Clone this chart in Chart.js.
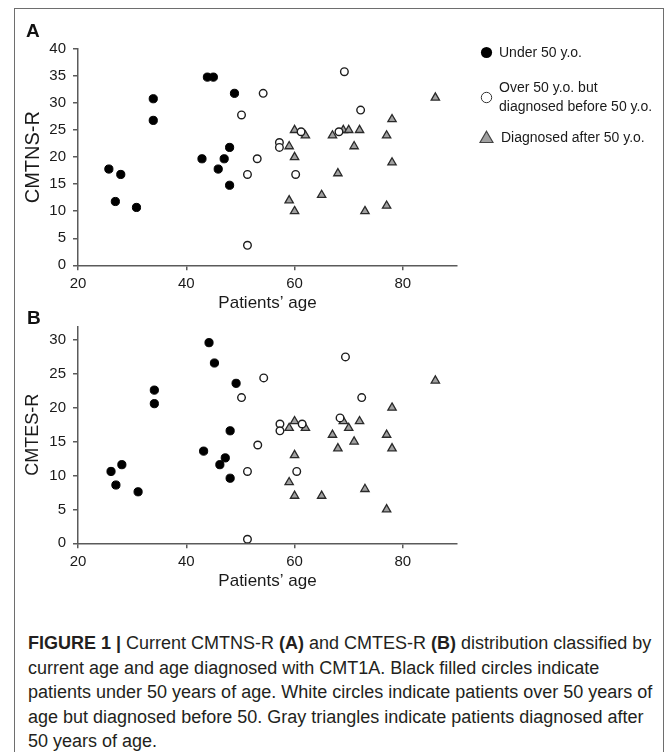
<!DOCTYPE html>
<html>
<head>
<meta charset="utf-8">
<script src="https://cdn.jsdelivr.net/npm/chart.js@4.4.1/dist/chart.umd.min.js"></script>
<style>
html,body{margin:0;padding:0;background:#fff;}
body{width:669px;height:752px;position:relative;overflow:hidden;font-family:"Liberation Sans",Arial,sans-serif;color:#1a1a1a;}
#frame{position:absolute;left:14px;top:8px;width:650px;height:800px;border:1.5px solid #6e6e6e;border-bottom:none;box-sizing:border-box;}
canvas{position:absolute;left:0;}
#cA{top:0px;}
#cB{top:310px;}
.plabel{position:absolute;font-weight:bold;font-size:19px;line-height:20px;color:#111;}
.lg{position:absolute;font-size:14px;line-height:19px;color:#1a1a1a;white-space:pre-line;}
.lm{position:absolute;}
#cap{position:absolute;left:28px;top:631px;font-size:18px;line-height:24.5px;white-space:nowrap;color:#231f20;}
</style>
</head>
<body>
<div id="frame"></div>
<canvas id="cA" width="669" height="320"></canvas>
<canvas id="cB" width="669" height="290"></canvas>
<div class="plabel" style="left:26px;top:21px;">A</div>
<div class="plabel" style="left:27px;top:308px;">B</div>
<div id="legend"></div>
<div id="cap"><b>FIGURE 1 |</b> Current CMTNS-R <b>(A)</b> and CMTES-R <b>(B)</b> distribution classified by<br>current age and age diagnosed with CMT1A. Black filled circles indicate<br>patients under 50 years of age. White circles indicate patients over 50 years of<br>age but diagnosed before 50. Gray triangles indicate patients diagnosed after<br>50 years of age.</div>
<script>
// ---- data ----
const seriesNames = ['Under 50 y.o.', 'Over 50 y.o.  but\ndiagnosed before 50 y.o.', 'Diagnosed after 50 y.o.'];
const xTickVals = [20, 40, 60, 80];
const yTickValsA = [0, 5, 10, 15, 20, 25, 30, 35, 40];
const yTickValsB = [0, 5, 10, 15, 20, 25, 30];

// Panel A: CMTNS-R  [age, score]
const underA = [[25.7,17.8],[27.9,16.8],[26.9,11.8],[30.8,10.7],[33.9,30.8],[33.9,26.8],[43.9,34.8],[45,34.8],[48.9,31.8],[42.9,19.7],[45.9,17.8],[47,19.7],[48,21.8],[48,14.8]];
const overA = [[50.2,27.8],[51.3,16.8],[51.3,3.7],[53.1,19.7],[54.2,31.8],[57.2,22.7],[57.2,21.8],[60.2,16.8],[61.2,24.7],[68.2,24.7],[69.2,35.8],[72.2,28.7]];
const afterA = [[60,25],[62,24],[59,22],[60,20],[59,12],[60,10],[65,13],[67,24],[68,17],[69,25],[70,25],[72,25],[71,22],[73,10],[77,24],[77,11],[78,27],[78,19],[86,31]];

// Panel B: CMTES-R  [age, score]
const underB = [[26.1,10.6],[27,8.6],[28.1,11.6],[31.1,7.6],[34.1,22.6],[34.1,20.6],[44.2,29.6],[45.2,26.6],[49.2,23.6],[43.2,13.6],[46.2,11.6],[47.2,12.6],[48.1,16.6],[48.1,9.6]];
const overB = [[50.2,21.5],[51.3,10.6],[51.3,0.6],[53.2,14.5],[54.3,24.4],[57.3,17.6],[57.3,16.6],[60.4,10.6],[61.4,17.6],[68.4,18.5],[69.4,27.5],[72.4,21.5]];
const afterB = [[60,18],[59,17],[62,17],[60,13],[59,9],[60,7],[65,7],[67,16],[68,14],[69,18],[70,17],[72,18],[71,15],[73,8],[77,16],[77,5],[78,20],[78,14],[86,24]];

// ---- style ----
const FAM = '"Liberation Sans", Arial, sans-serif';
const axisColor = '#5a5a5a';
const textColor = '#1a1a1a';
const styles = [
  {pointStyle:'circle', pointRadius:4.1, backgroundColor:'#000', borderColor:'#000', borderWidth:1},
  {pointStyle:'circle', pointRadius:3.8, backgroundColor:'#fff', borderColor:'#1e1e1e', borderWidth:1.4},
  {pointStyle:'triangle', pointRadius:4.8, backgroundColor:'#a0a0a0', borderColor:'#2a2a2a', borderWidth:1.3}
];
const toPts = arr => arr.map(p => ({x:p[0], y:p[1]}));

function makeChart(id, sets, yMax, yTickVals, yTitle, yTitleSize, yTitlePad, padTop, padBottom) {
  return new Chart(document.getElementById(id), {
    type: 'scatter',
    data: {
      datasets: sets.map((s, i) => Object.assign({label: seriesNames[i], data: toPts(s), pointHoverRadius: styles[i].pointRadius}, styles[i]))
    },
    options: {
      responsive: false, animation: false, devicePixelRatio: 1,
      layout: {padding: {left: 20, right: 212, top: padTop, bottom: padBottom}},
      plugins: {legend: {display: false}, tooltip: {enabled: false}},
      scales: {
        x: {
          type: 'linear', min: 20, max: 90,
          afterBuildTicks: s => { s.ticks = xTickVals.map(v => ({value: v})); },
          afterFit: s => { s.height = 48.5; },
          grid: {display: true, drawOnChartArea: false, drawTicks: true, tickLength: 5, color: axisColor, lineWidth: 1.5},
          border: {display: true, color: axisColor, width: 1.5},
          ticks: {font: {family: FAM, size: 15}, color: textColor, padding: 5, maxRotation: 0, autoSkip: false},
          title: {display: true, text: 'Patients\u2019 age', font: {family: FAM, size: 17}, color: textColor, padding: 0}
        },
        y: {
          type: 'linear', min: 0, max: yMax,
          afterBuildTicks: s => { s.ticks = yTickVals.map(v => ({value: v})); },
          afterFit: s => { s.width = 58; },
          grid: {display: true, drawOnChartArea: false, drawTicks: true, tickLength: 5, color: axisColor, lineWidth: 1.5},
          border: {display: true, color: axisColor, width: 1.5},
          ticks: {font: {family: FAM, size: 15}, color: textColor, padding: 7, autoSkip: false},
          title: {display: true, text: yTitle, font: {family: FAM, size: yTitleSize}, color: textColor, padding: {top: yTitlePad, bottom: 0}}
        }
      }
    }
  });
}

makeChart('cA', [underA, overA, afterA], 40, yTickValsA, 'CMTNS-R', 20, 1.5, 49, 6.2);
makeChart('cB', [underB, overB, afterB], 32, yTickValsB, 'CMTES-R', 18, 2.7, 16.4, 8.2);

// ---- legend (HTML) ----
const legend = document.getElementById('legend');
const markers = [
  '<svg class="lm" style="left:480px;top:45.5px" width="13" height="13"><circle cx="6.5" cy="6.5" r="5.6" fill="#000"/></svg>',
  '<svg class="lm" style="left:480px;top:90.5px" width="13" height="13"><circle cx="6.5" cy="6.5" r="5.2" fill="#fff" stroke="#333" stroke-width="1"/></svg>',
  '<svg class="lm" style="left:479px;top:130px" width="15" height="14"><polygon points="7.5,1.2 14,12.5 1,12.5" fill="#a0a0a0" stroke="#444" stroke-width="1.2"/></svg>'
];
const textPos = [[499, 42.5], [499, 77.5], [501, 127.5]];
let html = '';
seriesNames.forEach((n, i) => {
  html += markers[i];
  html += '<div class="lg" style="left:' + textPos[i][0] + 'px;top:' + textPos[i][1] + 'px">' + n + '</div>';
});
legend.innerHTML = html;
</script>
</body>
</html>
